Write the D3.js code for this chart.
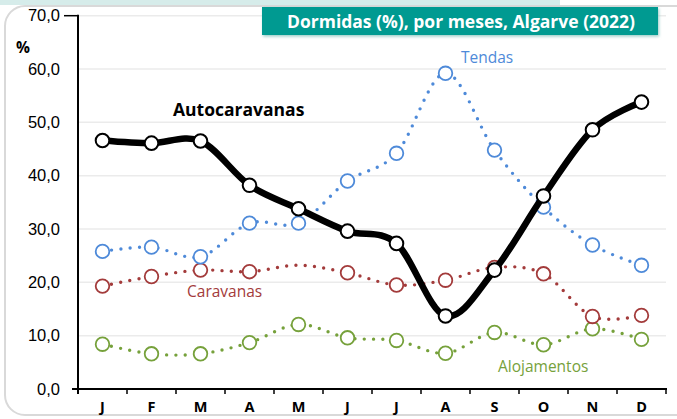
<!DOCTYPE html>
<html>
<head>
<meta charset="utf-8">
<script src="https://cdn.jsdelivr.net/npm/d3@7"></script>
<style>
  body { margin: 0; background: #fff; }
  svg { display: block; font-family: "Open Sans", Lato, sans-serif; }
</style>
</head>
<body>
<svg id="chart"></svg>
<script>
// données
const months = ["J", "F", "M", "A", "M", "J", "J", "A", "S", "O", "N", "D"];
const yTicks = [0, 10, 20, 30, 40, 50, 60, 70];
const autocaravanas = [46.6, 46.1, 46.5, 38.2, 33.8, 29.6, 27.3, 13.7, 22.3, 36.2, 48.6, 53.8];
const tendas = [25.8, 26.6, 24.8, 31.1, 31.1, 39.0, 44.2, 59.2, 44.8, 34.1, 27.0, 23.2];
const caravanas = [19.3, 21.1, 22.3, 22.0, 23.2, 21.8, 19.5, 20.4, 22.8, 21.6, 13.6, 13.8];
const alojamentos = [8.4, 6.6, 6.6, 8.7, 12.1, 9.6, 9.1, 6.7, 10.6, 8.3, 11.3, 9.3];

const width = 677;
const height = 419;
const svg = d3.select("#chart").attr("width", width).attr("height", height);

const margin = { left: 78, right: 11, top: 15.7, bottom: 30 };
const x = d3.scaleBand().domain(d3.range(12)).range([margin.left, width - margin.right]);
const y = d3.scaleLinear().domain([0, 70]).range([389, margin.top]);

// cadre arrondi + bande du haut
svg.append("rect").attr("x", 0).attr("y", 0).attr("width", 560).attr("height", 5)
    .attr("fill", "#d6ecea");
svg.append("rect").attr("x", 5).attr("y", 6).attr("width", 690).attr("height", 409)
    .attr("rx", 20).attr("fill", "#fff").attr("stroke", "#d9d9d9").attr("stroke-width", 2);

// grille
svg.append("g").selectAll("line")
    .data(yTicks.filter(d => d > 0))
    .join("line")
    .attr("x1", margin.left).attr("x2", x.range()[1])
    .attr("y1", d => y(d)).attr("y2", d => y(d))
    .attr("stroke", "#ebebeb").attr("stroke-width", 1.5);

// axe y
const yAxis = svg.append("g").attr("transform", `translate(${margin.left},0)`)
    .call(d3.axisLeft(y).tickValues(yTicks).tickSize(0).tickPadding(18)
        .tickFormat(d => d3.format(".1f")(d).replace(".", ",")));
yAxis.select(".domain").remove();
yAxis.selectAll("text").attr("font-size", 16.5).attr("fill", "#000");
svg.append("line").attr("x1", margin.left).attr("x2", margin.left)
    .attr("y1", y(70) - 1).attr("y2", y(0) + 5).attr("stroke", "#000").attr("stroke-width", 2);
svg.append("line").attr("x1", 64).attr("x2", margin.left)
    .attr("y1", y(70)).attr("y2", y(70)).attr("stroke", "#000").attr("stroke-width", 1.5);

// axe x
const xg = svg.append("g").attr("transform", `translate(0,${y(0)})`);
xg.append("line").attr("x1", 72).attr("x2", x.range()[1] + 1)
    .attr("stroke", "#000").attr("stroke-width", 2);
xg.selectAll("line.tick")
    .data(d3.range(13))
    .join("line").attr("class", "tick")
    .attr("x1", d => margin.left + d * x.step()).attr("x2", d => margin.left + d * x.step())
    .attr("y1", 0).attr("y2", 5)
    .attr("stroke", "#000").attr("stroke-width", 1.5);
xg.selectAll("text")
    .data(months)
    .join("text")
    .attr("x", (d, i) => x(i) + x.bandwidth() / 2)
    .attr("y", 23)
    .attr("text-anchor", "middle")
    .attr("font-size", 14.5).attr("font-weight", "bold")
    .text(d => d);

svg.append("text").attr("x", 16).attr("y", 53).attr("font-size", 15.5)
    .attr("font-weight", "bold").text("%");

// séries
const cx = i => x(i) + x.bandwidth() / 2;
const line = d3.line().x((d, i) => cx(i)).y(d => y(d)).curve(d3.curveCardinal.tension(0));

const series = [
    { values: alojamentos, color: "#76a13b", skip: [] },
    { values: caravanas, color: "#a33b3b", skip: [4] },
    { values: tendas, color: "#4e8ad9", skip: [] },
];

series.forEach(s => {
    svg.append("path").attr("d", line(s.values))
        .attr("fill", "none").attr("stroke", s.color)
        .attr("stroke-width", 3.4).attr("stroke-linecap", "round")
        .attr("stroke-dasharray", "0 9.3");
    svg.append("g").selectAll("circle")
        .data(s.values.map((v, i) => ({ v, i })).filter(d => !s.skip.includes(d.i)))
        .join("circle")
        .attr("cx", d => cx(d.i)).attr("cy", d => y(d.v)).attr("r", 6.8)
        .attr("fill", "#fff").attr("stroke", s.color).attr("stroke-width", 1.8);
});

svg.append("path").attr("d", line(autocaravanas))
    .attr("fill", "none").attr("stroke", "#000").attr("stroke-width", 6.5)
    .attr("stroke-linejoin", "round");
svg.append("g").selectAll("circle")
    .data(autocaravanas)
    .join("circle")
    .attr("cx", (d, i) => cx(i)).attr("cy", d => y(d)).attr("r", 6.8)
    .attr("fill", "#fff").attr("stroke", "#000").attr("stroke-width", 2);

// étiquettes des séries
const labels = [
    { text: "Autocaravanas", x: 173, y: 116, color: "#000", weight: "bold", size: 17.5 },
    { text: "Tendas", x: 461, y: 63, color: "#4e8ad9", weight: "normal", size: 15.5 },
    { text: "Caravanas", x: 187, y: 297, color: "#a33b3b", weight: "normal", size: 15.5 },
    { text: "Alojamentos", x: 498, y: 372, color: "#76a13b", weight: "normal", size: 15.5 },
];
svg.append("g").selectAll("text")
    .data(labels)
    .join("text")
    .attr("x", d => d.x).attr("y", d => d.y)
    .attr("fill", d => d.color).attr("font-weight", d => d.weight).attr("font-size", d => d.size)
    .text(d => d.text);

// titre
const defs = svg.append("defs");
const f = defs.append("filter").attr("id", "shadow").attr("x", "-5%").attr("y", "-30%")
    .attr("width", "110%").attr("height", "160%");
f.append("feDropShadow").attr("dx", 1).attr("dy", 1.5).attr("stdDeviation", 1.5)
    .attr("flood-color", "#7fbfb9").attr("flood-opacity", 0.8);
svg.append("rect").attr("x", 262).attr("y", 7).attr("width", 396).attr("height", 28)
    .attr("fill", "#069a91").attr("filter", "url(#shadow)");
svg.append("text").attr("x", 461).attr("y", 27.5).attr("text-anchor", "middle")
    .attr("fill", "#fff").attr("font-weight", "bold").attr("font-size", 17.5)
    .text("Dormidas (%), por meses, Algarve (2022)");
</script>
</body>
</html>
